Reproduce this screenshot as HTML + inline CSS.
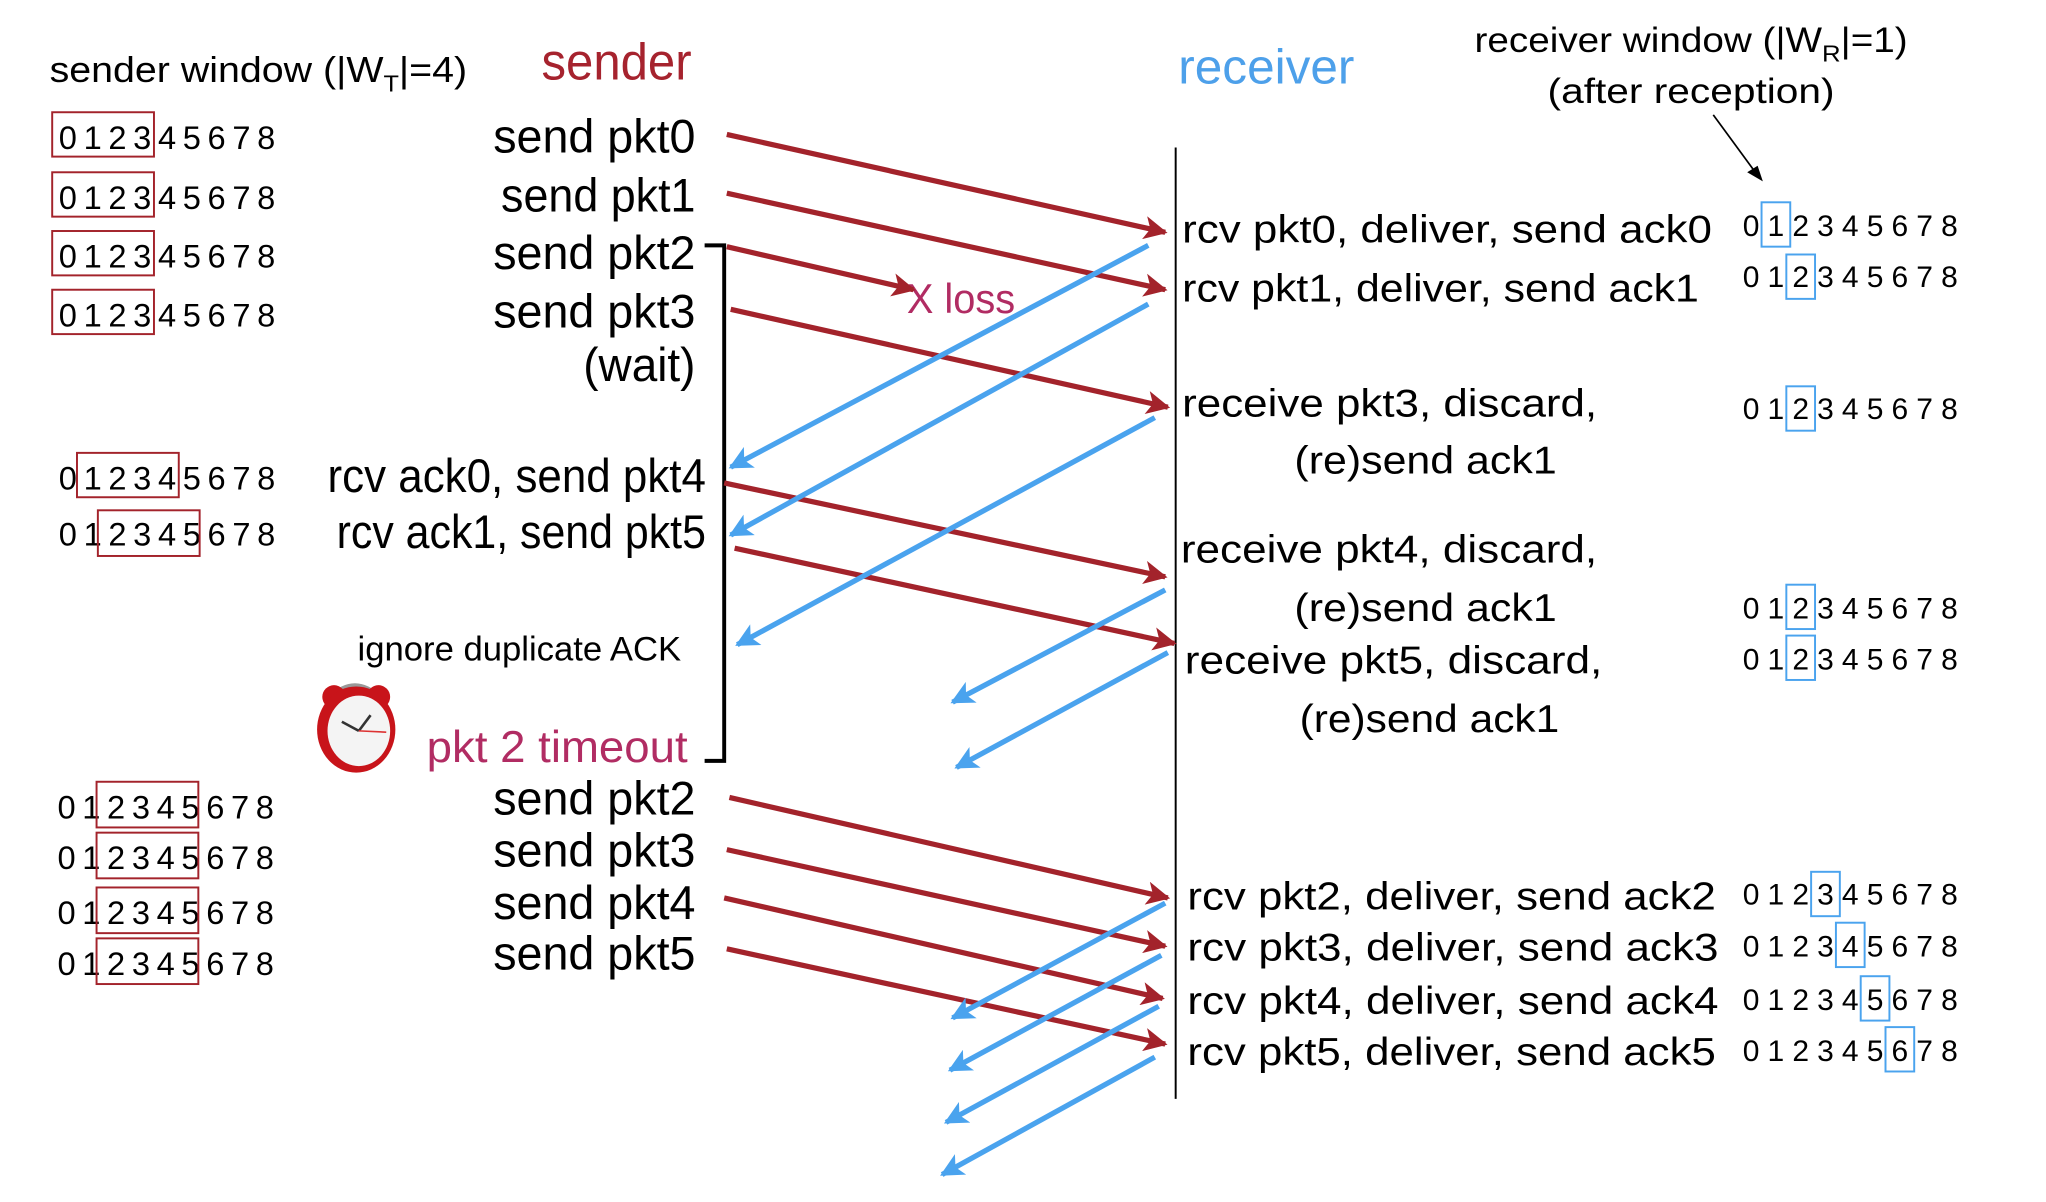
<!DOCTYPE html>
<html><head><meta charset="utf-8"><style>
html,body{margin:0;padding:0;background:#fff;}
svg{display:block;}
text{font-family:"Liberation Sans",sans-serif;}
</style></head><body>
<svg width="2046" height="1202" viewBox="0 0 1568 921" preserveAspectRatio="none" xmlns="http://www.w3.org/2000/svg">
<defs>
<marker id="ar" viewBox="0 0 10 10" refX="9" refY="5" markerWidth="4.5" markerHeight="4.5" orient="auto" markerUnits="strokeWidth"><path d="M0,0 L10,5 L0,10 L2.5,5 z" fill="#a3232b"/></marker>
<marker id="ab" viewBox="0 0 10 10" refX="9" refY="5" markerWidth="4.5" markerHeight="4.5" orient="auto" markerUnits="strokeWidth"><path d="M0,0 L10,5 L0,10 L2.5,5 z" fill="#4aa3ee"/></marker>
</defs>

<!-- headers -->
<text x="38" y="63" font-size="28" textLength="320" lengthAdjust="spacingAndGlyphs">sender window (|W<tspan font-size="18" dy="7">T</tspan><tspan dy="-7">|=4)</tspan></text>
<text x="415" y="61" font-size="40" fill="#a6232e" textLength="115" lengthAdjust="spacingAndGlyphs">sender</text>
<text x="903" y="64" font-size="38" fill="#4da0ea" textLength="135" lengthAdjust="spacingAndGlyphs">receiver</text>
<text x="1130" y="40" font-size="27" textLength="332" lengthAdjust="spacingAndGlyphs">receiver window (|W<tspan font-size="18" dy="7">R</tspan><tspan dy="-7">|=1)</tspan></text>
<text x="1186" y="79" font-size="27" textLength="220" lengthAdjust="spacingAndGlyphs">(after reception)</text>
<line x1="1313" y1="88" x2="1346" y2="133" stroke="#000" stroke-width="1.3"/>
<path d="M1351,139 L1339,132 L1347,127 z" fill="#000"/>

<!-- sender labels -->
<g font-size="36">
<text x="378" y="117" textLength="155" lengthAdjust="spacingAndGlyphs">send  pkt0</text>
<text x="384" y="162" textLength="149" lengthAdjust="spacingAndGlyphs">send  pkt1</text>
<text x="378" y="206" textLength="155" lengthAdjust="spacingAndGlyphs">send  pkt2</text>
<text x="378" y="251" textLength="155" lengthAdjust="spacingAndGlyphs">send  pkt3</text>
<text x="447" y="292" textLength="86" lengthAdjust="spacingAndGlyphs">(wait)</text>
<text x="251" y="377" textLength="290" lengthAdjust="spacingAndGlyphs">rcv ack0, send pkt4</text>
<text x="258" y="420" textLength="283" lengthAdjust="spacingAndGlyphs">rcv ack1, send pkt5</text>
<text x="378" y="624" textLength="155" lengthAdjust="spacingAndGlyphs">send  pkt2</text>
<text x="378" y="664" textLength="155" lengthAdjust="spacingAndGlyphs">send  pkt3</text>
<text x="378" y="704" textLength="155" lengthAdjust="spacingAndGlyphs">send  pkt4</text>
<text x="378" y="743" textLength="155" lengthAdjust="spacingAndGlyphs">send  pkt5</text>
</g>
<text x="274" y="506" font-size="26" textLength="248" lengthAdjust="spacingAndGlyphs">ignore duplicate ACK</text>
<text x="327" y="584" font-size="34" fill="#b12c63" textLength="200" lengthAdjust="spacingAndGlyphs">pkt 2 timeout</text>
<text x="695" y="240" font-size="32" fill="#b12c63" textLength="83" lengthAdjust="spacingAndGlyphs">X loss</text>

<!-- clock -->
<g>
<path d="M252,535 Q272,515 292,535" fill="none" stroke="#999" stroke-width="3"/>
<circle cx="256" cy="534" r="9" fill="#c8141a"/>
<circle cx="290" cy="534" r="9" fill="#c8141a"/>
<ellipse cx="273" cy="559" rx="30" ry="33" fill="#c8141a"/>
<ellipse cx="275" cy="560" rx="24" ry="27" fill="#f4f4f4"/>
<line x1="275" y1="560" x2="262" y2="553" stroke="#333" stroke-width="2"/>
<line x1="275" y1="560" x2="284" y2="548" stroke="#333" stroke-width="2"/>
<line x1="275" y1="560" x2="296" y2="561" stroke="#d33" stroke-width="1.2"/>
</g>

<!-- bracket -->
<path d="M540,188 H555 V583 H540" fill="none" stroke="#000" stroke-width="3"/>

<!-- receiver line -->
<line x1="901" y1="113" x2="901" y2="842" stroke="#000" stroke-width="1.5"/>

<!-- receiver labels -->
<g font-size="30">
<text x="906" y="186" textLength="406" lengthAdjust="spacingAndGlyphs">rcv pkt0, deliver, send ack0</text>
<text x="906" y="231" textLength="396" lengthAdjust="spacingAndGlyphs">rcv pkt1, deliver, send ack1</text>
<text x="906" y="319" textLength="318" lengthAdjust="spacingAndGlyphs">receive pkt3, discard,</text>
<text x="992" y="363" textLength="201" lengthAdjust="spacingAndGlyphs">(re)send ack1</text>
<text x="905" y="431" textLength="319" lengthAdjust="spacingAndGlyphs">receive pkt4, discard,</text>
<text x="992" y="476" textLength="201" lengthAdjust="spacingAndGlyphs">(re)send ack1</text>
<text x="908" y="516" textLength="320" lengthAdjust="spacingAndGlyphs">receive pkt5, discard,</text>
<text x="996" y="561" textLength="199" lengthAdjust="spacingAndGlyphs">(re)send ack1</text>
<text x="910" y="697" textLength="405" lengthAdjust="spacingAndGlyphs">rcv pkt2, deliver, send ack2</text>
<text x="910" y="736" textLength="407" lengthAdjust="spacingAndGlyphs">rcv pkt3, deliver, send ack3</text>
<text x="910" y="777" textLength="407" lengthAdjust="spacingAndGlyphs">rcv pkt4, deliver, send ack4</text>
<text x="910" y="816" textLength="405" lengthAdjust="spacingAndGlyphs">rcv pkt5, deliver, send ack5</text>
</g>

<!-- sender windows -->
<g font-size="25" text-anchor="middle">
<text y="114"><tspan x="52">0</tspan><tspan x="71">1</tspan><tspan x="90">2</tspan><tspan x="109">3</tspan><tspan x="128">4</tspan><tspan x="147">5</tspan><tspan x="166">6</tspan><tspan x="185">7</tspan><tspan x="204">8</tspan></text>
<text y="160"><tspan x="52">0</tspan><tspan x="71">1</tspan><tspan x="90">2</tspan><tspan x="109">3</tspan><tspan x="128">4</tspan><tspan x="147">5</tspan><tspan x="166">6</tspan><tspan x="185">7</tspan><tspan x="204">8</tspan></text>
<text y="205"><tspan x="52">0</tspan><tspan x="71">1</tspan><tspan x="90">2</tspan><tspan x="109">3</tspan><tspan x="128">4</tspan><tspan x="147">5</tspan><tspan x="166">6</tspan><tspan x="185">7</tspan><tspan x="204">8</tspan></text>
<text y="250"><tspan x="52">0</tspan><tspan x="71">1</tspan><tspan x="90">2</tspan><tspan x="109">3</tspan><tspan x="128">4</tspan><tspan x="147">5</tspan><tspan x="166">6</tspan><tspan x="185">7</tspan><tspan x="204">8</tspan></text>
<text y="375"><tspan x="52">0</tspan><tspan x="71">1</tspan><tspan x="90">2</tspan><tspan x="109">3</tspan><tspan x="128">4</tspan><tspan x="147">5</tspan><tspan x="166">6</tspan><tspan x="185">7</tspan><tspan x="204">8</tspan></text>
<text y="418"><tspan x="52">0</tspan><tspan x="71">1</tspan><tspan x="90">2</tspan><tspan x="109">3</tspan><tspan x="128">4</tspan><tspan x="147">5</tspan><tspan x="166">6</tspan><tspan x="185">7</tspan><tspan x="204">8</tspan></text>
<text y="627"><tspan x="51">0</tspan><tspan x="70">1</tspan><tspan x="89">2</tspan><tspan x="108">3</tspan><tspan x="127">4</tspan><tspan x="146">5</tspan><tspan x="165">6</tspan><tspan x="184">7</tspan><tspan x="203">8</tspan></text>
<text y="666"><tspan x="51">0</tspan><tspan x="70">1</tspan><tspan x="89">2</tspan><tspan x="108">3</tspan><tspan x="127">4</tspan><tspan x="146">5</tspan><tspan x="165">6</tspan><tspan x="184">7</tspan><tspan x="203">8</tspan></text>
<text y="708"><tspan x="51">0</tspan><tspan x="70">1</tspan><tspan x="89">2</tspan><tspan x="108">3</tspan><tspan x="127">4</tspan><tspan x="146">5</tspan><tspan x="165">6</tspan><tspan x="184">7</tspan><tspan x="203">8</tspan></text>
<text y="747"><tspan x="51">0</tspan><tspan x="70">1</tspan><tspan x="89">2</tspan><tspan x="108">3</tspan><tspan x="127">4</tspan><tspan x="146">5</tspan><tspan x="165">6</tspan><tspan x="184">7</tspan><tspan x="203">8</tspan></text>
</g>
<g fill="none" stroke="#a3232b" stroke-width="1.5">
<rect x="40" y="86" width="78" height="34"/>
<rect x="40" y="132" width="78" height="34"/>
<rect x="40" y="177" width="78" height="34"/>
<rect x="40" y="222" width="78" height="34"/>
<rect x="59" y="347" width="78" height="34"/>
<rect x="75" y="391" width="78" height="35"/>
<rect x="74" y="599" width="78" height="35"/>
<rect x="74" y="638" width="78" height="35"/>
<rect x="74" y="680" width="78" height="35"/>
<rect x="74" y="719" width="78" height="35"/>
</g>

<!-- receiver windows -->
<g font-size="23" text-anchor="middle">
<text y="181"><tspan x="1342">0</tspan><tspan x="1361">1</tspan><tspan x="1380">2</tspan><tspan x="1399">3</tspan><tspan x="1418">4</tspan><tspan x="1437">5</tspan><tspan x="1456">6</tspan><tspan x="1475">7</tspan><tspan x="1494">8</tspan></text>
<text y="220"><tspan x="1342">0</tspan><tspan x="1361">1</tspan><tspan x="1380">2</tspan><tspan x="1399">3</tspan><tspan x="1418">4</tspan><tspan x="1437">5</tspan><tspan x="1456">6</tspan><tspan x="1475">7</tspan><tspan x="1494">8</tspan></text>
<text y="321"><tspan x="1342">0</tspan><tspan x="1361">1</tspan><tspan x="1380">2</tspan><tspan x="1399">3</tspan><tspan x="1418">4</tspan><tspan x="1437">5</tspan><tspan x="1456">6</tspan><tspan x="1475">7</tspan><tspan x="1494">8</tspan></text>
<text y="474"><tspan x="1342">0</tspan><tspan x="1361">1</tspan><tspan x="1380">2</tspan><tspan x="1399">3</tspan><tspan x="1418">4</tspan><tspan x="1437">5</tspan><tspan x="1456">6</tspan><tspan x="1475">7</tspan><tspan x="1494">8</tspan></text>
<text y="513"><tspan x="1342">0</tspan><tspan x="1361">1</tspan><tspan x="1380">2</tspan><tspan x="1399">3</tspan><tspan x="1418">4</tspan><tspan x="1437">5</tspan><tspan x="1456">6</tspan><tspan x="1475">7</tspan><tspan x="1494">8</tspan></text>
<text y="693"><tspan x="1342">0</tspan><tspan x="1361">1</tspan><tspan x="1380">2</tspan><tspan x="1399">3</tspan><tspan x="1418">4</tspan><tspan x="1437">5</tspan><tspan x="1456">6</tspan><tspan x="1475">7</tspan><tspan x="1494">8</tspan></text>
<text y="733"><tspan x="1342">0</tspan><tspan x="1361">1</tspan><tspan x="1380">2</tspan><tspan x="1399">3</tspan><tspan x="1418">4</tspan><tspan x="1437">5</tspan><tspan x="1456">6</tspan><tspan x="1475">7</tspan><tspan x="1494">8</tspan></text>
<text y="774"><tspan x="1342">0</tspan><tspan x="1361">1</tspan><tspan x="1380">2</tspan><tspan x="1399">3</tspan><tspan x="1418">4</tspan><tspan x="1437">5</tspan><tspan x="1456">6</tspan><tspan x="1475">7</tspan><tspan x="1494">8</tspan></text>
<text y="813"><tspan x="1342">0</tspan><tspan x="1361">1</tspan><tspan x="1380">2</tspan><tspan x="1399">3</tspan><tspan x="1418">4</tspan><tspan x="1437">5</tspan><tspan x="1456">6</tspan><tspan x="1475">7</tspan><tspan x="1494">8</tspan></text>
</g>
<g fill="none" stroke="#4aa3ee" stroke-width="1.5">
<rect x="1350" y="155" width="22" height="34"/>
<rect x="1369" y="195" width="22" height="34"/>
<rect x="1369" y="296" width="22" height="34"/>
<rect x="1369" y="448" width="22" height="34"/>
<rect x="1369" y="487" width="22" height="34"/>
<rect x="1388" y="668" width="22" height="34"/>
<rect x="1407" y="707" width="22" height="34"/>
<rect x="1426" y="748" width="22" height="34"/>
<rect x="1445" y="787" width="22" height="34"/>
</g>

<!-- red arrows -->
<g stroke="#a3232b" stroke-width="4" marker-end="url(#ar)">
<line x1="557" y1="103" x2="893" y2="178"/>
<line x1="557" y1="148" x2="893" y2="222"/>
<line x1="557" y1="189" x2="700" y2="222"/>
<line x1="560" y1="237" x2="895" y2="312"/>
<line x1="555" y1="370" x2="893" y2="442"/>
<line x1="563" y1="420" x2="900" y2="493"/>
<line x1="559" y1="611" x2="895" y2="688"/>
<line x1="557" y1="651" x2="893" y2="725"/>
<line x1="555" y1="688" x2="891" y2="765"/>
<line x1="557" y1="727" x2="893" y2="800"/>
</g>
<!-- blue arrows -->
<g stroke="#4aa3ee" stroke-width="4" marker-end="url(#ab)">
<line x1="880" y1="188" x2="560" y2="358"/>
<line x1="880" y1="233" x2="560" y2="410"/>
<line x1="885" y1="320" x2="565" y2="494"/>
<line x1="893" y1="452" x2="730" y2="538"/>
<line x1="895" y1="500" x2="733" y2="588"/>
<line x1="893" y1="692" x2="730" y2="780"/>
<line x1="890" y1="732" x2="728" y2="820"/>
<line x1="888" y1="771" x2="725" y2="860"/>
<line x1="885" y1="810" x2="722" y2="900"/>
</g>
</svg>
</body></html>
